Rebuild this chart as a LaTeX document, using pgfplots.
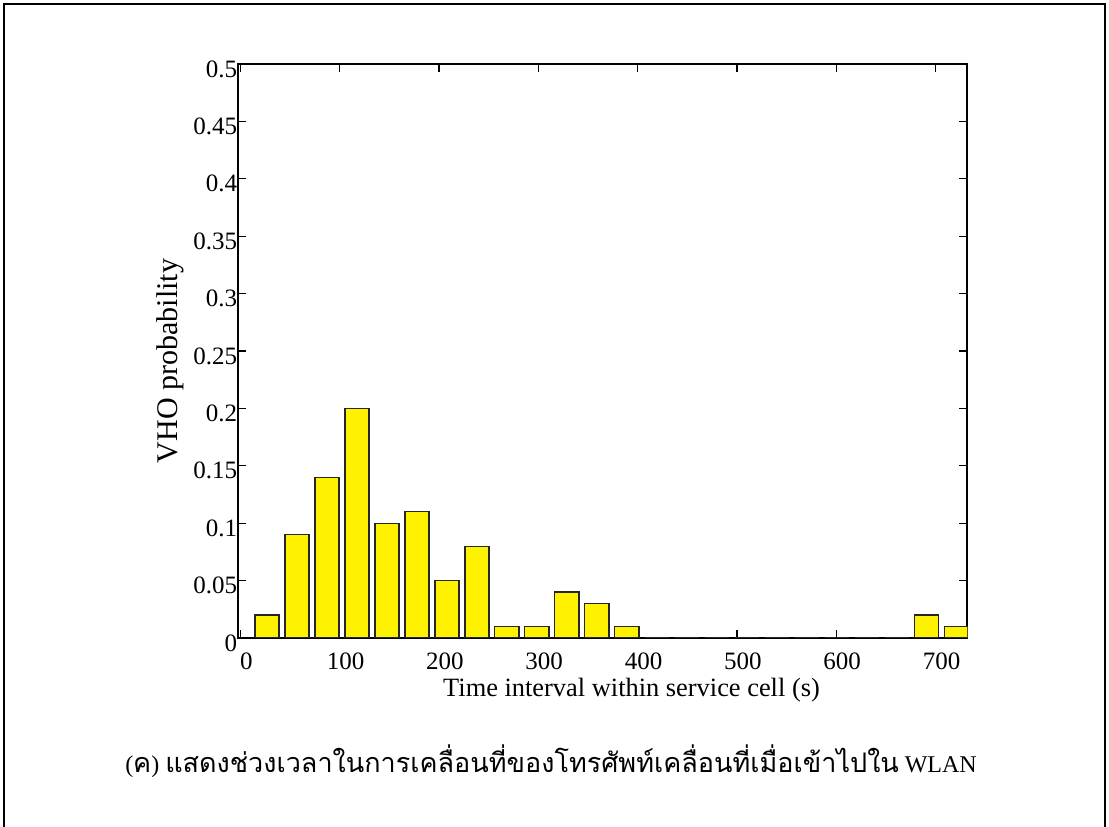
\documentclass[border=0pt]{standalone}
\usepackage{fontspec}
\setmainfont{Liberation Serif}
\newfontfamily\thaifont[Script=Thai]{Loma}
\usepackage{pgfplots}
\usepackage{pgfplotstable}
\pgfplotsset{compat=1.18}
\pgfplotstableread{
x y
26.8 0.02
57.0 0.09
87.2 0.14
117.4 0.20
147.6 0.10
177.8 0.11
208.0 0.05
238.2 0.08
268.4 0.01
298.6 0.01
328.8 0.04
359.0 0.03
389.2 0.01
419.4 0
449.6 0
479.8 0
510.0 0
540.2 0
570.4 0
600.6 0
630.8 0
661.0 0
691.2 0.02
721.4 0.01
}\vho
\begin{document}
\begin{tikzpicture}[x=1pt,y=1pt]
\useasboundingbox (0,0) rectangle (1109,827);
\draw[line width=1.3pt] (4,-5) -- (4,823) -- (1105,823) -- (1105,-5);
\begin{axis}[
  at={(238.3pt,189pt)}, anchor=south west, scale only axis,
  width=729pt, height=574pt,
  xmin=-2, xmax=732, ymin=0, ymax=0.5,
  xtick={0,100,...,700},
  xticklabels={0,100,200,300,400,500,600,700},
  ytick={0,0.05,0.1,0.15,0.2,0.25,0.3,0.35,0.4,0.45,0.5},
  yticklabels={0,0.05,0.1,0.15,0.2,0.25,0.3,0.35,0.4,0.45,0.5},
  /pgf/number format/assume math mode=true,
  tick align=inside, major tick length=8pt,
  tick style={line width=1.3pt, black},
  axis line style={line width=2pt},
  tick label style={font=\fontsize{25}{30}\selectfont},
  xticklabel style={anchor=north, inner sep=0pt, yshift=-15pt, xshift=6pt},
  yticklabel style={anchor=east, inner sep=0pt, xshift=-1pt, yshift=-5pt},
  xlabel={Time interval within service cell (s)},
  xlabel style={at={(axis description cs:0.5394,0)}, anchor=base, yshift=-59pt, font=\fontsize{26.4}{31}\selectfont},
  ylabel={VHO probability},
  ylabel style={at={(axis description cs:-0.0933,0.4826)}, anchor=center, font=\fontsize{30}{36}\selectfont},
]
\addplot[ybar, bar width=24.2, bar shift=0pt, fill=yellow, draw=black!85, line width=1.3pt] table[x=x,y=y] {\vho};
\end{axis}
\node[anchor=base] at (551,54.3) {\fontsize{24}{28}\selectfont (\thaifont\fontsize{27}{32}\selectfont ค\normalfont\fontsize{24}{28}\selectfont) {\thaifont\fontsize{27}{32}\selectfont แสดงช่วงเวลาในการเคลื่อนที่ของโทรศัพท์เคลื่อนที่เมื่อเข้าไปใน} WLAN};
\end{tikzpicture}
\end{document}
